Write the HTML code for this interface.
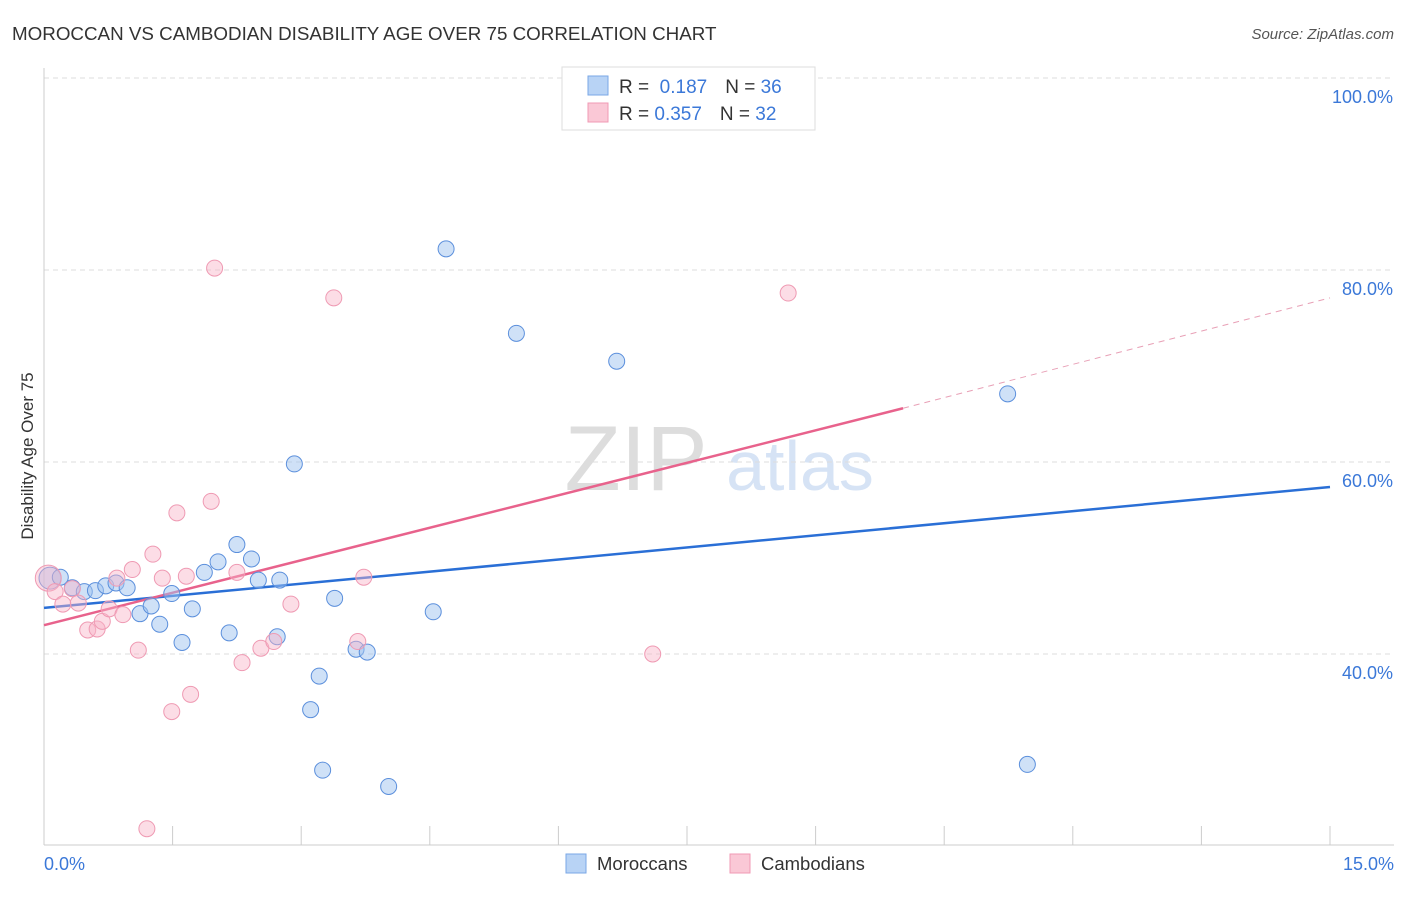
<!DOCTYPE html>
<html><head><meta charset="utf-8"><style>
body{margin:0;background:#fff;font-family:"Liberation Sans",sans-serif;}
svg text{font-family:"Liberation Sans",sans-serif;}
</style></head><body>
<svg width="1406" height="892" xmlns="http://www.w3.org/2000/svg" id="chart">
<text x="12" y="40" font-size="18.8" fill="#333">MOROCCAN VS CAMBODIAN DISABILITY AGE OVER 75 CORRELATION CHART</text>
<text x="1394" y="39" font-size="15" fill="#555" font-style="italic" text-anchor="end">Source: ZipAtlas.com</text>
<text x="636" y="490" font-size="92" fill="#ddd" font-family="Liberation Serif" text-anchor="middle">ZIP</text>
<text x="800" y="490" font-size="70" fill="#d6e3f5" text-anchor="middle">atlas</text>
<g id="grid"></g>
<line x1="44" y1="68" x2="44" y2="845" stroke="#ccc"/>
<line x1="44" y1="845" x2="1394" y2="845" stroke="#ccc"/>
<text x="33" y="456" font-size="17" fill="#333" transform="rotate(-90 33 456)" text-anchor="middle">Disability Age Over 75</text>
<text x="44" y="870" font-size="18" fill="#3b78d8">0.0%</text>
<text x="1394" y="870" font-size="18" fill="#3b78d8" text-anchor="end">15.0%</text>
<g id="lines"></g>
<g id="points"></g>
<g>
<rect x="562" y="67" width="253" height="63" fill="#fff" stroke="#ddd"/>
<rect x="588" y="76" width="20" height="19" fill="#b8d3f5" stroke="#7aa7e6"/>
<rect x="588" y="103" width="20" height="19" fill="#fac8d6" stroke="#f09ab4"/>
<text x="619" y="93" font-size="19" fill="#333">R = <tspan fill="#3b78d8">&#160;0.187</tspan><tspan dx="18">N = </tspan><tspan fill="#3b78d8">36</tspan></text>
<text x="619" y="120" font-size="19" fill="#333">R = <tspan fill="#3b78d8">0.357</tspan><tspan dx="18">N = </tspan><tspan fill="#3b78d8">32</tspan></text>
</g>
<g>
<rect x="566" y="854" width="20" height="19" fill="#b8d3f5" stroke="#7aa7e6"/>
<text x="597" y="870" font-size="18.5" fill="#333">Moroccans</text>
<rect x="730" y="854" width="20" height="19" fill="#fac8d6" stroke="#f09ab4"/>
<text x="761" y="870" font-size="18.5" fill="#333">Cambodians</text>
</g>
</svg>
<script>
const yTicks=[40,60,80,100];
const yTickLabels=["40.0%","60.0%","80.0%","100.0%"];
const xTicks=[0,1.5,3,4.5,6,7.5,9,10.5,12,13.5,15];
const moroccanX=[0.07,0.19,0.33,0.47,0.6,0.72,0.84,0.97,1.12,1.25,1.35,1.49,1.61,1.73,1.87,2.03,2.16,2.25,2.42,2.5,2.72,2.75,2.92,3.11,3.21,3.25,3.39,3.64,3.77,4.02,4.54,4.69,5.51,6.68,11.24,11.47];
const moroccanY=[47.9,48.0,46.9,46.5,46.6,47.1,47.4,46.9,44.2,45.0,43.1,46.3,41.2,44.7,48.5,49.6,42.2,51.4,49.9,47.7,41.8,47.7,59.8,34.2,37.7,27.9,45.8,40.5,40.2,26.2,44.4,82.2,73.4,70.5,67.1,28.5];
const cambodianX=[0.05,0.13,0.22,0.33,0.4,0.51,0.62,0.68,0.76,0.85,0.92,1.03,1.1,1.27,1.38,1.49,1.55,1.66,1.71,1.95,1.99,2.25,2.31,2.53,2.68,2.88,3.38,3.66,3.73,7.1,8.68,1.2];
const cambodianY=[47.9,46.5,45.2,46.8,45.3,42.5,42.6,43.4,44.7,47.9,44.1,48.8,40.4,50.4,47.9,34.0,54.7,48.1,35.8,55.9,80.2,48.5,39.1,40.6,41.3,45.2,77.1,41.3,48.0,40.0,77.6,21.8];
const blueTrend=[0,44.8,15,57.4];
const pinkTrend=[0,43.0,10.02,65.6,15,77.1];
const NS="http://www.w3.org/2000/svg";
const X=v=>44+v/15*1286, Y=v=>654-(v-40)*9.6;
function mk(t,a,p){const e=document.createElementNS(NS,t);for(const k in a)e.setAttribute(k,a[k]);p.appendChild(e);return e;}
const grid=document.getElementById('grid');
yTicks.forEach((t,i)=>{
 const l=mk('line',{x1:44,x2:1394,y1:Y(t),y2:Y(t),stroke:'#ddd','stroke-dasharray':'5,4'},grid);
 
 
 const tx=mk('text',{x:1393,y:Y(t)+25,'font-size':18,fill:'#3b78d8','text-anchor':'end'},grid);
 tx.textContent=yTickLabels[i];
 
 
});
xTicks.forEach(t=>{
 const l=mk('line',{x1:X(t),x2:X(t),y1:826,y2:845,stroke:'#ccc'},grid);
 
 
});
const pts=document.getElementById('points');
moroccanX.forEach((x,i)=>{
 const c=mk('circle',{cx:X(x),cy:Y(moroccanY[i]),r:i==0?11:8,fill:'rgba(160,196,240,0.5)',stroke:'#5b8fdc','stroke-width':1},pts);
 
 
});
cambodianX.forEach((x,i)=>{
 const c=mk('circle',{cx:X(x),cy:Y(cambodianY[i]),r:i==0?13:8,fill:'rgba(248,180,200,0.45)',stroke:'#ef9ab3','stroke-width':1},pts);
 
 
});
const lines=document.getElementById('lines');
let b=mk('line',{x1:X(blueTrend[0]),y1:Y(blueTrend[1]),x2:X(blueTrend[2]),y2:Y(blueTrend[3]),stroke:'#2a6fd6','stroke-width':2.5},lines);


let p=mk('line',{x1:X(pinkTrend[0]),y1:Y(pinkTrend[1]),x2:X(pinkTrend[2]),y2:Y(pinkTrend[3]),stroke:'#e8628c','stroke-width':2.5},lines);


let pd=mk('line',{x1:X(pinkTrend[2]),y1:Y(pinkTrend[3]),x2:X(pinkTrend[4]),y2:Y(pinkTrend[5]),stroke:'#e8a0b6','stroke-width':1,'stroke-dasharray':'6,5'},lines);


</script>
</body></html>
